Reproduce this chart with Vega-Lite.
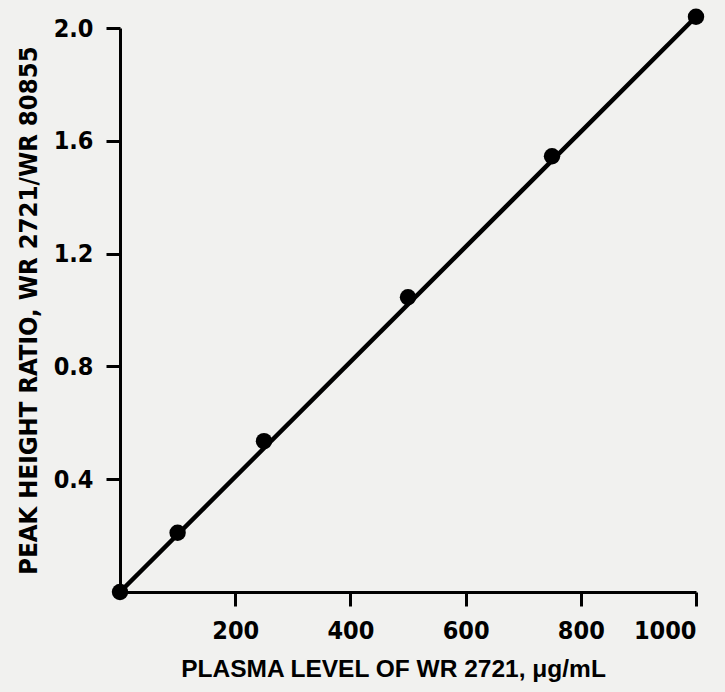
{
  "$schema": "https://vega.github.io/schema/vega-lite/v6.json",
  "width": 576,
  "height": 564,
  "autosize": {"type": "none"},
  "padding": {"left": 120, "top": 28, "right": 29, "bottom": 100},
  "background": "#f1f1ef",
  "config": {
    "view": {"stroke": null},
    "axis": {
      "domainColor": "#000000",
      "domainWidth": 3,
      "tickColor": "#000000",
      "tickWidth": 3,
      "tickSize": 14,
      "grid": false,
      "labelFont": "DejaVu Sans Condensed, Liberation Sans",
      "labelFontWeight": "bold",
      "labelFontSize": 25,
      "labelColor": "#000000",
      "titleFont": "DejaVu Sans Condensed, Liberation Sans",
      "titleFontWeight": "bold",
      "titleColor": "#000000"
    }
  },
  "datasets": {
    "pts": [
      {"level": 0, "ratio": 0},
      {"level": 100, "ratio": 0.21},
      {"level": 250, "ratio": 0.535},
      {"level": 500, "ratio": 1.045},
      {"level": 750, "ratio": 1.545},
      {"level": 1000, "ratio": 2.04}
    ],
    "fit": [
      {"level": 0, "ratio": 0},
      {"level": 1000, "ratio": 2.04}
    ]
  },
  "layer": [
    {
      "data": {"name": "fit"},
      "mark": {"type": "line", "color": "#000000", "strokeWidth": 4.5, "clip": false},
      "encoding": {
        "x": {
          "field": "level", "type": "quantitative",
          "scale": {"domain": [0, 1000], "nice": false},
          "axis": {
            "values": [200, 400, 600, 800, 1000],
            "format": "d",
            "labelPadding": 12,
            "title": "PLASMA LEVEL OF WR 2721, μg/mL",
            "titleFont": "Liberation Sans",
            "titleFontSize": 24.5,
            "titlePadding": 14,
            "titleX": 273,
            "titleAnchor": "middle"
          }
        },
        "y": {
          "field": "ratio", "type": "quantitative",
          "scale": {"domain": [0, 2.0], "nice": false},
          "axis": {
            "values": [0.4, 0.8, 1.2, 1.6, 2.0],
            "format": ".1f",
            "labelPadding": 13,
            "title": "PEAK HEIGHT RATIO, WR 2721/WR 80855",
            "titleFontSize": 25.5,
            "titlePadding": 12
          }
        }
      }
    },
    {
      "data": {"name": "pts"},
      "mark": {"type": "point", "filled": true, "color": "#000000", "size": 270, "opacity": 1, "clip": false},
      "encoding": {
        "x": {"field": "level", "type": "quantitative"},
        "y": {"field": "ratio", "type": "quantitative"}
      }
    }
  ]
}
